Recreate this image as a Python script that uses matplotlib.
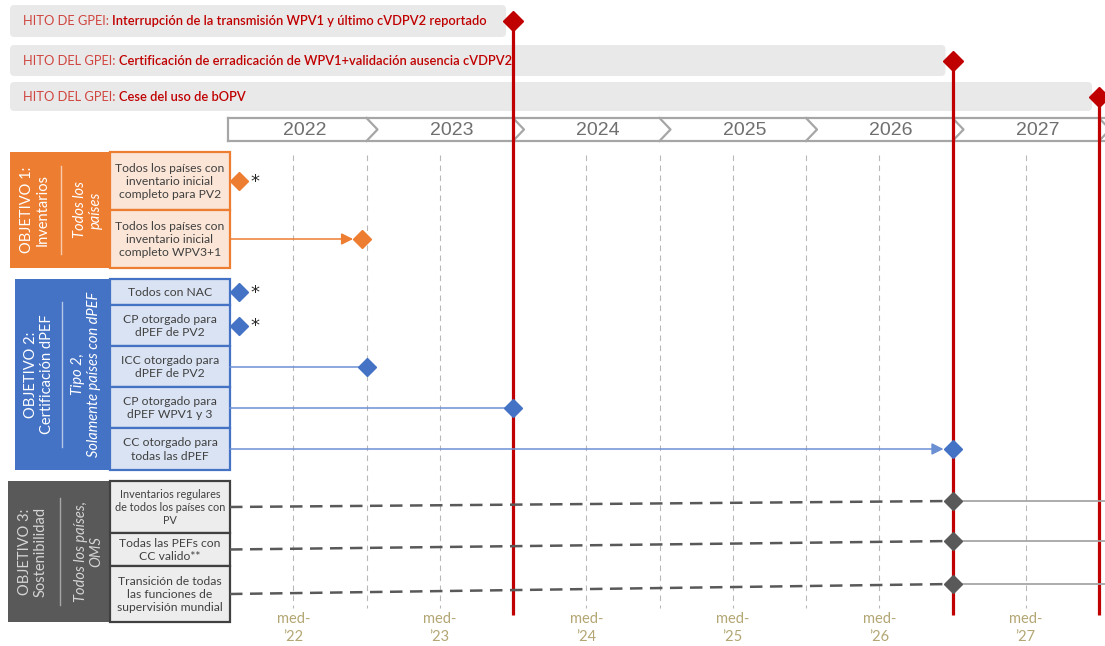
import matplotlib
matplotlib.use("Agg")
import matplotlib.pyplot as plt
from matplotlib.patches import Rectangle, FancyBboxPatch

plt.rcParams['font.family'] = ['Lato', 'DejaVu Sans']

# ---------------- data ----------------
YEARS = [2022, 2023, 2024, 2025, 2026, 2027]
MID_LABELS = ['med-\n’22', 'med-\n’23', 'med-\n’24', 'med-\n’25', 'med-\n’26', 'med-\n’27']

MILESTONE_PREFIX = ['HITO DE GPEI: ', 'HITO DEL GPEI: ', 'HITO DEL GPEI: ']
MILESTONE_TEXT = ['Interrupción de la transmisión WPV1 y último cVDPV2 reportado',
                  'Certificación de erradicación de WPV1+validación ausencia cVDPV2',
                  'Cese del uso de bOPV']
MILESTONE_DATE = [2024.0, 2027.0, 2028.0]

OBJ_TITLES = ['OBJETIVO 1:\nInventarios', 'OBJETIVO 2:\nCertificación dPEF',
              'OBJETIVO 3:\nSostenibilidad']
OBJ_SCOPE = ['Todos los\npaíses', 'Tipo 2,\nSolamente países con dPEF',
             'Todos los países,\nOMS']

OBJ1_TASKS = ['Todos los países con\ninventario inicial\ncompleto para PV2',
              'Todos los países con\ninventario inicial\ncompleto WPV3+1']
OBJ1_DATES = [2022.13, 2022.97]
OBJ1_DONE = [True, False]

OBJ2_TASKS = ['Todos con NAC', 'CP otorgado para\ndPEF de PV2', 'ICC otorgado para\ndPEF de PV2',
              'CP otorgado para\ndPEF WPV1 y 3', 'CC otorgado para\ntodas las dPEF']
OBJ2_DATES = [2022.13, 2022.13, 2023.0, 2024.0, 2027.0]
OBJ2_DONE = [True, True, False, False, False]

OBJ3_TASKS = ['Inventarios regulares\nde todos los países con\nPV',
              'Todas las PEFs con\nCC valido**',
              'Transición de todas\nlas funciones de\nsupervisión mundial']
OBJ3_DATES = [2027.0, 2027.0, 2027.0]

# ---------------- layout (pixels) ----------------
W, H = 1105, 646
PX0, PPY = 220, 146.5            # pixel of 1 Jan 2022, pixels per year


def px(x):
    """pixel x -> year coordinate"""
    return 2022 + (x - PX0) / PPY


RED = '#c00000'
ORANGE, ORANGE_LT, ORANGE_SEP = '#ed7d31', '#fbe5d6', '#f8cbad'
BLUE, BLUE_LT, BLUE_SEP = '#4472c4', '#dae3f3', '#b4c7e7'
GREY, GREY_LT, GREY_SEP = '#595959', '#ededed', '#a6a6a6'
TXT = '#404040'

BOX_L, BOX_R = 110, 230          # task boxes
TL_START = px(BOX_R)

fig = plt.figure(figsize=(W / 100, H / 100), dpi=100)
ax = fig.add_axes([0, 0, 1, 1])
ax.set_xlim(px(0), px(W))
ax.set_ylim(H, 0)
ax.axis('off')

# ---------------- milestone bars ----------------
BAR_Y = [(5, 37), (45, 76), (82, 111)]
BAR_Y_MID = [21, 61, 97]
for pre, txt, date, (y0, y1), ym in zip(MILESTONE_PREFIX, MILESTONE_TEXT, MILESTONE_DATE, BAR_Y, BAR_Y_MID):
    x0 = px(10)
    x1 = date - 7 / PPY
    ax.add_patch(FancyBboxPatch((x0, y0), x1 - x0, y1 - y0,
                                boxstyle='round,pad=0,rounding_size=0.03',
                                mutation_aspect=PPY, fc='#e9e9e9', ec='none', zorder=1))
    t1 = ax.text(px(23), ym, pre, color='#d0453f', fontsize=9.25, va='center', zorder=3)
    ax.annotate(txt, xy=(1, 0), xycoords=t1, va='bottom', ha='left',
                color=RED, fontsize=9.25, fontweight='semibold', zorder=3)
    ax.vlines(date, ym, 615, color=RED, lw=2.3, zorder=4)
    ax.plot(date, ym, marker='D', ms=10.5, color=RED, mec=RED, zorder=5, clip_on=False)

# ---------------- year band ----------------
BAND_T, BAND_B = 118, 141
band_col = '#a6a6a6'
ax.plot([px(228), px(W)], [BAND_T, BAND_T], color=band_col, lw=1.6, zorder=2)
ax.plot([px(228), px(W)], [BAND_B, BAND_B], color=band_col, lw=1.6, zorder=2)
ax.plot([px(228), px(228)], [BAND_T, BAND_B], color=band_col, lw=1.6, zorder=2)
tip = 11 / PPY
for yr in YEARS:
    xe = yr + 1
    ax.plot([xe, xe + tip, xe], [BAND_T, (BAND_T + BAND_B) / 2, BAND_B],
            color=band_col, lw=1.6, zorder=2)
    ax.text(yr + 0.58, (BAND_T + BAND_B) / 2 + 1, str(yr), ha='center', va='center',
            fontsize=14, color='#6f6f6f', family=['Liberation Sans', 'DejaVu Sans'], zorder=3)

# ---------------- grid + bottom labels ----------------
for yr, lab in zip(YEARS, MID_LABELS):
    ax.vlines(yr + 0.5, 155, 608, color='#b8b8b8', lw=0.8, linestyles=(0, (5, 4)), zorder=1)
    if yr + 1 not in MILESTONE_DATE:
        ax.vlines(yr + 1, 155, 608, color='#b8b8b8', lw=0.8, linestyles=(0, (5, 4)), zorder=1)
    ax.text(yr + 0.5, 628, lab, ha='center', va='center', fontsize=10.5,
            color='#b3a673', linespacing=1.35, zorder=3)


# ---------------- objective blocks ----------------
def objective(title, scope, big, edges, tasks, fc, lt, ec, sep, title_col, fs, title_x, scope_x):
    bx0, by0, by1 = big
    ymid = (by0 + by1) / 2
    ax.add_patch(Rectangle((px(bx0), by0), px(BOX_L) - px(bx0), by1 - by0, fc=fc, ec='none', zorder=2))
    ax.text(px(title_x), ymid, title, rotation=90, ha='center', va='center', color=title_col,
            fontsize=10.5, linespacing=1.1, zorder=3)
    ax.text(px(scope_x), ymid, scope, rotation=90, ha='center', va='center', color=title_col,
            fontsize=10.5, style='italic', linespacing=1.1, zorder=3)
    sep_x = (title_x + scope_x) / 2 - 1
    span = (by1 - by0) * 0.38
    ax.plot([px(sep_x), px(sep_x)], [ymid - span, ymid + span], color=sep, lw=1, zorder=3)
    centers = []
    for i, task in enumerate(tasks):
        y0, y1 = edges[i], edges[i + 1]
        ax.add_patch(Rectangle((px(BOX_L), y0), px(BOX_R) - px(BOX_L), y1 - y0,
                               fc=lt, ec=ec, lw=1.6, zorder=3))
        ax.text(px((BOX_L + BOX_R) / 2), (y0 + y1) / 2 + 0.5, task, ha='center', va='center',
                color=TXT, fontsize=fs[i], linespacing=1.25, zorder=4)
        centers.append((y0 + y1) / 2)
    return centers


def task_marks(centers, dates, done, color, line_col, arrow_rows):
    for i, (y, d, dn) in enumerate(zip(centers, dates, done)):
        if not dn:
            end = d - (9 / PPY if i in arrow_rows else 0)
            if i in arrow_rows:
                ax.annotate('', xy=(end, y), xytext=(TL_START, y),
                            arrowprops=dict(arrowstyle='-|>,head_length=0.7,head_width=0.35',
                                            color=line_col, lw=1.1, shrinkA=0, shrinkB=0),
                            zorder=4)
            else:
                ax.plot([TL_START, end], [y, y], color=line_col, lw=1.1, zorder=4)
        ax.plot(d, y, marker='D', ms=9, color=color, mec=color, zorder=5)
        if dn:
            ax.text(d + 16 / PPY, y + 1, '*', ha='center', va='center', fontsize=13,
                    color='#262626', family='DejaVu Sans', zorder=5)


c1 = objective(OBJ_TITLES[0], OBJ_SCOPE[0], (10, 152, 268), [152, 210, 268], OBJ1_TASKS,
               ORANGE, ORANGE_LT, ORANGE, ORANGE_SEP, 'white', [8.7, 8.7], 35, 88)
task_marks(c1, OBJ1_DATES, OBJ1_DONE, ORANGE, ORANGE, arrow_rows=[1])

c2 = objective(OBJ_TITLES[1], OBJ_SCOPE[1], (15, 279, 470), [279, 305, 346, 387, 428, 470],
               OBJ2_TASKS, BLUE, BLUE_LT, BLUE, BLUE_SEP, 'white', [8.7] * 5, 39, 86)
task_marks(c2, OBJ2_DATES, OBJ2_DONE, BLUE, '#6b8fd3', arrow_rows=[4])

c3 = objective(OBJ_TITLES[2], OBJ_SCOPE[2], (8, 481, 622), [481, 533, 566, 622], OBJ3_TASKS,
               GREY, GREY_LT, '#404040', GREY_SEP, '#d4d4d4', [7.8, 8.7, 8.7], 33, 89)
OBJ3_END_Y = [501, 541, 584]
for y, ye, d in zip(c3, OBJ3_END_Y, OBJ3_DATES):
    ax.plot([TL_START, d], [y, ye], color=GREY, lw=1.8, ls=(0, (5, 3)), zorder=4)
    ax.plot([d, px(W)], [ye, ye], color='#a6a6a6', lw=1.3, zorder=4)
    ax.plot(d, ye, marker='D', ms=9, color=GREY, mec=GREY, zorder=5)

fig.savefig('out.png', dpi=100)
